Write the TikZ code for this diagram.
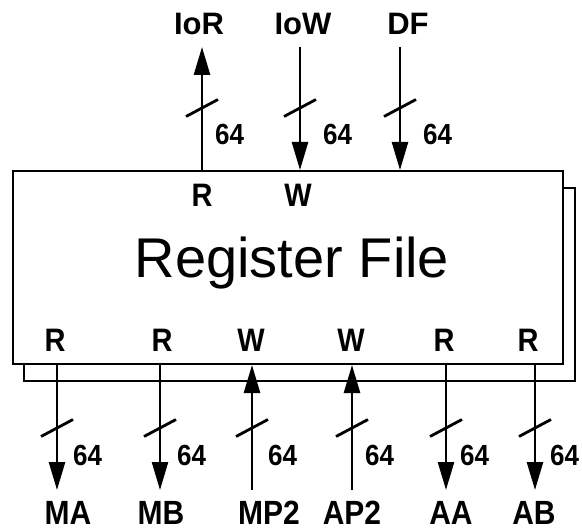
\documentclass[tikz,border=0pt]{standalone}
\usepackage{fontspec}
\usepackage{graphicx}
\setmainfont{Liberation Sans}
\usetikzlibrary{arrows.meta}
\newcommand{\tallbox}[1]{\scalebox{1}[1.12]{#1}}
\begin{document}
\begin{tikzpicture}[x=1pt,y=-1pt,
  bus/.style={line width=2.6pt,-{Triangle[length=28pt,width=16pt]}},
  busslash/.style={line width=2.8pt},
  boxline/.style={draw,line width=2pt,fill=white},
  sig/.style={font=\bfseries\fontsize{31}{36}\selectfont,inner sep=0pt,anchor=base},
  sigb/.style={font=\bfseries\fontsize{30}{36}\selectfont,inner sep=0pt,anchor=base},
  port/.style={font=\bfseries\fontsize{29}{34}\selectfont,inner sep=0pt,anchor=base},
  wlab/.style={font=\bfseries\fontsize{26}{30}\selectfont,inner sep=0pt,anchor=base west},
  title/.style={font=\fontsize{56}{60}\selectfont,inner sep=0pt,anchor=base},
]
\useasboundingbox (0,0) rectangle (582,532);
% shadow and main box
\path[boxline] (24,188) rectangle (575,381);
\node[boxline,minimum width=550pt,minimum height=193pt,inner sep=0pt,anchor=north west] (rf) at (12,170) {};
\node[title] (rft) at (292,278) {Register File};

% top port labels
\node[port] (pr1) at (202,207) {\tallbox{R}};
\node[port] (pw1) at (298,207) {\tallbox{W}};
% top signal labels
\node[sig] (ior) at (199,35) {IoR};
\node[sig] (iow) at (303,35) {IoW};
\node[sig] (df) at (408,35) {DF};
% top arrows
\coordinate (iorA) at (202,170); \coordinate (iorB) at (202,47);
\coordinate (iowA) at (300,47);  \coordinate (iowB) at (300,170);
\coordinate (dfA) at (400,47);   \coordinate (dfB) at (400,170);
\draw[bus] (iorA) -- (iorB);
\draw[bus] (iowA) -- (iowB);
\draw[bus] (dfA) -- (dfB);
\foreach \x in {202,300,400} \draw[busslash] (\x-16,116.5) -- (\x+16,99.5);
\node[wlab] (w1) at (215,145) {\tallbox{64}};
\node[wlab] (w2) at (323,145) {\tallbox{64}};
\node[wlab] (w3) at (423,145) {\tallbox{64}};

% bottom port labels
\node[port] (br1) at (55,352) {\tallbox{R}};
\node[port] (br2) at (162,352) {\tallbox{R}};
\node[port] (bw1) at (251,352) {\tallbox{W}};
\node[port] (bw2) at (351,352) {\tallbox{W}};
\node[port] (br3) at (444,352) {\tallbox{R}};
\node[port] (br4) at (528,352) {\tallbox{R}};

% bottom arrows
\coordinate (maA) at (57,363);   \coordinate (maB) at (57,490);
\coordinate (mbA) at (160,363);  \coordinate (mbB) at (160,490);
\coordinate (mpA) at (252,490);  \coordinate (mpB) at (252,365);
\coordinate (apA) at (352,490);  \coordinate (apB) at (352,365);
\coordinate (aaA) at (446,363);  \coordinate (aaB) at (446,490);
\coordinate (abA) at (535,363);  \coordinate (abB) at (535,490);
\draw[bus] (maA) -- (maB);
\draw[bus] (mbA) -- (mbB);
\draw[bus] (mpA) -- (mpB);
\draw[bus] (apA) -- (apB);
\draw[bus] (aaA) -- (aaB);
\draw[bus] (abA) -- (abB);
\foreach \x in {57,160,252,352,446,535} \draw[busslash] (\x-16,436.5) -- (\x+16,419.5);
\node[wlab] (b1) at (73,465) {\tallbox{64}};
\node[wlab] (b2) at (177,465) {\tallbox{64}};
\node[wlab] (b3) at (268,465) {\tallbox{64}};
\node[wlab] (b4) at (365,465) {\tallbox{64}};
\node[wlab] (b5) at (460,465) {\tallbox{64}};
\node[wlab] (b6) at (550,465) {\tallbox{64}};

% bottom signal labels
\node[sigb] (ma) at (68,524) {\tallbox{MA}};
\node[sigb] (mb) at (161,524) {\tallbox{MB}};
\node[sigb] (mp2) at (269,524) {\tallbox{MP2}};
\node[sigb] (ap2) at (352,524) {\tallbox{AP2}};
\node[sigb] (aa) at (451,524) {\tallbox{AA}};
\node[sigb] (ab) at (534,524) {\tallbox{AB}};
\end{tikzpicture}
\end{document}
